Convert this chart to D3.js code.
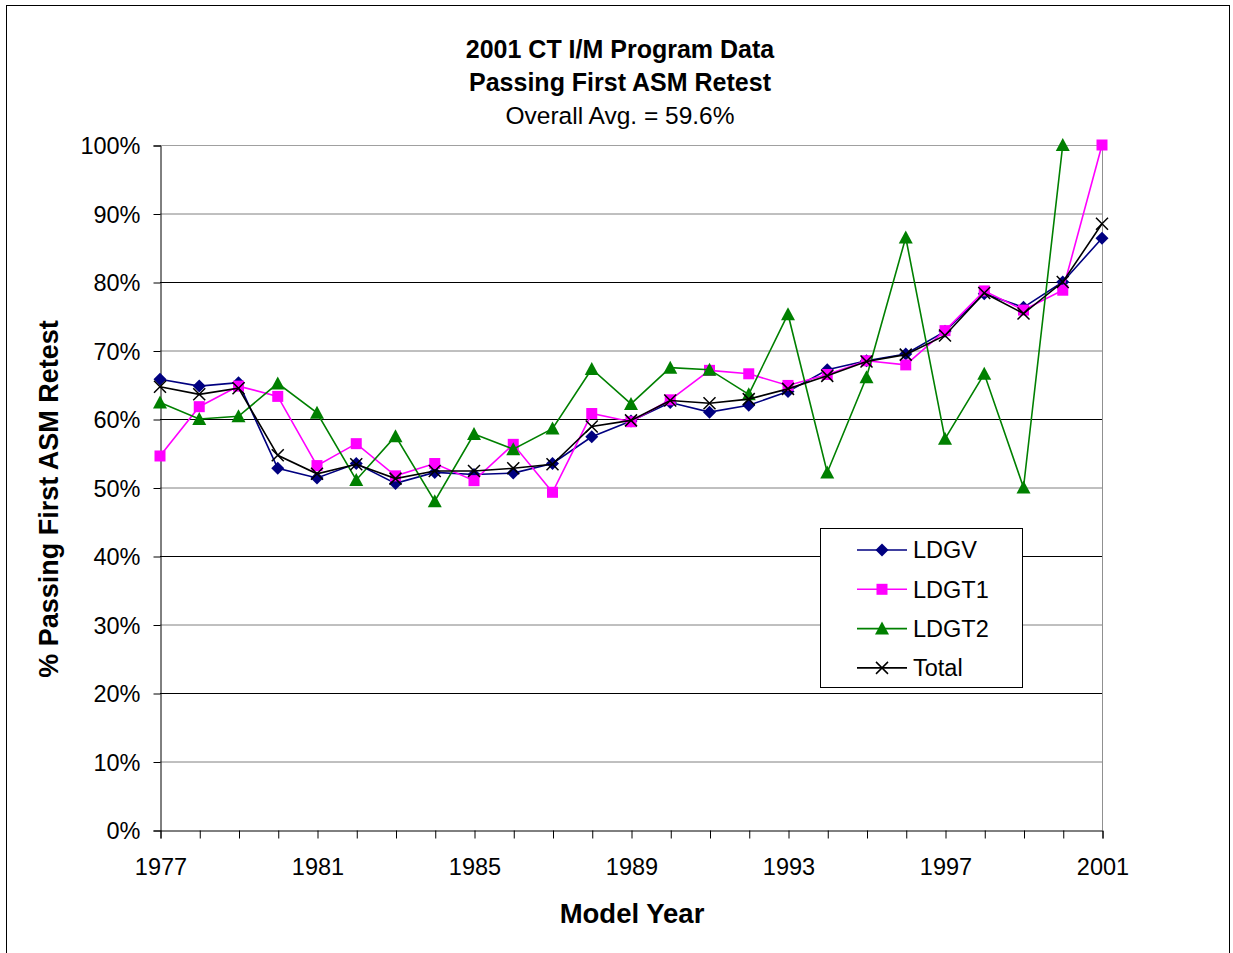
<!DOCTYPE html>
<html><head><meta charset="utf-8">
<script src="https://cdn.jsdelivr.net/npm/d3@7"></script>
<style>body{margin:0;background:#fff;} svg{display:block;font-family:"Liberation Sans",Arial,sans-serif;}</style>
</head><body>
<svg id="c" width="1233" height="953"></svg>
<script>
const years = d3.range(1977, 2002);
const ldgv  = [65.8,64.8,65.3,52.8,51.4,53.5,50.6,52.2,51.9,52.1,53.5,57.4,59.7,62.4,61.0,62.0,64.0,67.2,68.5,69.5,72.8,78.3,76.3,80.0,86.4];
const ldgt1 = [54.6,61.8,64.8,63.3,53.2,56.4,51.7,53.5,51.0,56.3,49.3,60.8,59.6,62.8,67.1,66.6,64.9,66.5,68.5,67.9,72.9,78.7,75.9,78.8,100];
const ldgt2 = [62.4,60.0,60.4,65.2,60.9,51.1,57.5,48.0,57.8,55.6,58.6,67.3,62.2,67.5,67.2,63.6,75.3,52.2,66.1,86.5,57.1,66.6,50.0,100,null];
const total = [64.7,63.6,64.5,54.7,52.0,53.4,51.3,52.4,52.4,52.8,53.4,58.9,59.8,62.7,62.3,62.9,64.4,66.3,68.4,69.4,72.2,78.4,75.4,80.0,88.5];
const yTicks = [0,10,20,30,40,50,60,70,80,90,100];
const xLabelYears = [1977,1981,1985,1989,1993,1997,2001];

const series = [
  {name:"LDGV", values:ldgv, color:"#000080", marker:"diamond"},
  {name:"LDGT1", values:ldgt1, color:"#FF00FF", marker:"square"},
  {name:"LDGT2", values:ldgt2, color:"#008000", marker:"triangle"},
  {name:"Total", values:total, color:"#000000", marker:"x"}
];

const svg = d3.select("#c");
svg.append("rect").attr("x",6.5).attr("y",5.5).attr("width",1223).attr("height",960)
  .attr("fill","none").attr("stroke","#000").attr("stroke-width",1);

const L=160, R=1102, T=145, B=830;
const x = d3.scaleLinear().domain([1977,2001]).range([L,R]);
const y = d3.scaleLinear().domain([0,100]).range([B,T]);

svg.append("g").selectAll("line").data(yTicks.filter(d=>d>0)).join("line")
  .attr("x1",L).attr("x2",R).attr("y1",d=>y(d)+0.5).attr("y2",d=>y(d)+0.5)
  .attr("stroke",d=> d===100 ? "#a0a0a0" : (d%20===10 ? "#808080" : "#000"))
  .attr("stroke-width",1);
svg.append("line").attr("x1",R+0.5).attr("x2",R+0.5).attr("y1",T).attr("y2",B)
  .attr("stroke","#909090");

const yAxis = d3.axisLeft(y).tickValues(yTicks).tickFormat(d=>d+"%").tickSize(7).tickPadding(13);
const gy = svg.append("g").attr("transform",`translate(${L+0.5},0.5)`).call(yAxis);
gy.select(".domain").attr("stroke","#000");
gy.selectAll(".tick line").attr("stroke","#000");
gy.selectAll(".tick text").attr("font-size",23.5).attr("fill","#000").attr("dy","0.36em");

const xAxis = d3.axisBottom(x).tickValues(years).tickFormat(d=> xLabelYears.includes(d) ? String(d) : "").tickSize(8).tickPadding(20);
const gx = svg.append("g").attr("transform",`translate(0.5,${B+0.5})`).call(xAxis);
gx.select(".domain").attr("stroke","#000");
gx.selectAll(".tick line").attr("stroke","#000");
gx.selectAll(".tick text").attr("font-size",23.5).attr("fill","#000");

svg.append("text").attr("x",620).attr("y",58).attr("text-anchor","middle").attr("font-size",25).attr("font-weight","bold").text("2001 CT I/M Program Data");
svg.append("text").attr("x",620).attr("y",91).attr("text-anchor","middle").attr("font-size",25).attr("font-weight","bold").text("Passing First ASM Retest");
svg.append("text").attr("x",620).attr("y",124).attr("text-anchor","middle").attr("font-size",24.5).text("Overall Avg. = 59.6%");
svg.append("text").attr("x",632).attr("y",923).attr("text-anchor","middle").attr("font-size",27.5).attr("font-weight","bold").text("Model Year");
svg.append("text").attr("transform","translate(58,499) rotate(-90)").attr("text-anchor","middle").attr("font-size",27).attr("font-weight","bold").text("% Passing First ASM Retest");

function drawMarker(g, type, color, cx, cy){
  if(type==="diamond"){
    g.append("path").attr("d",`M${cx},${cy-6.5}L${cx+6.5},${cy}L${cx},${cy+6.5}L${cx-6.5},${cy}Z`).attr("fill",color);
  } else if(type==="square"){
    g.append("rect").attr("x",cx-5.5).attr("y",cy-5.5).attr("width",11).attr("height",11).attr("fill",color);
  } else if(type==="triangle"){
    g.append("path").attr("d",`M${cx},${cy-7}L${cx+7},${cy+6}L${cx-7},${cy+6}Z`).attr("fill",color);
  } else {
    g.append("path").attr("d",`M${cx-6},${cy-6}L${cx+6},${cy+6}M${cx-6},${cy+6}L${cx+6},${cy-6}`).attr("stroke",color).attr("stroke-width",1.5).attr("fill","none");
  }
}

const line = d3.line().defined(d=>d[1]!=null).x(d=>x(d[0])).y(d=>y(d[1]));
series.forEach(s=>{
  const pts = years.map((yr,i)=>[yr,s.values[i]]);
  const g = svg.append("g");
  g.append("path").datum(pts).attr("d",line).attr("fill","none").attr("stroke",s.color).attr("stroke-width",1.6);
  pts.filter(p=>p[1]!=null).forEach(p=>drawMarker(g,s.marker,s.color,x(p[0]),y(p[1])));
});

const lg = svg.append("g");
lg.append("rect").attr("x",820.5).attr("y",528.5).attr("width",202).attr("height",159).attr("fill","#fff").attr("stroke","#000").attr("stroke-width",1);
series.forEach((s,i)=>{
  const cy = 550 + i*39.3;
  lg.append("line").attr("x1",857).attr("x2",907).attr("y1",cy).attr("y2",cy).attr("stroke",s.color).attr("stroke-width",1.6);
  drawMarker(lg,s.marker,s.color,882,cy);
  lg.append("text").attr("x",913).attr("y",cy).attr("dy","0.36em").attr("font-size",23.5).text(s.name);
});
</script>
</body></html>
